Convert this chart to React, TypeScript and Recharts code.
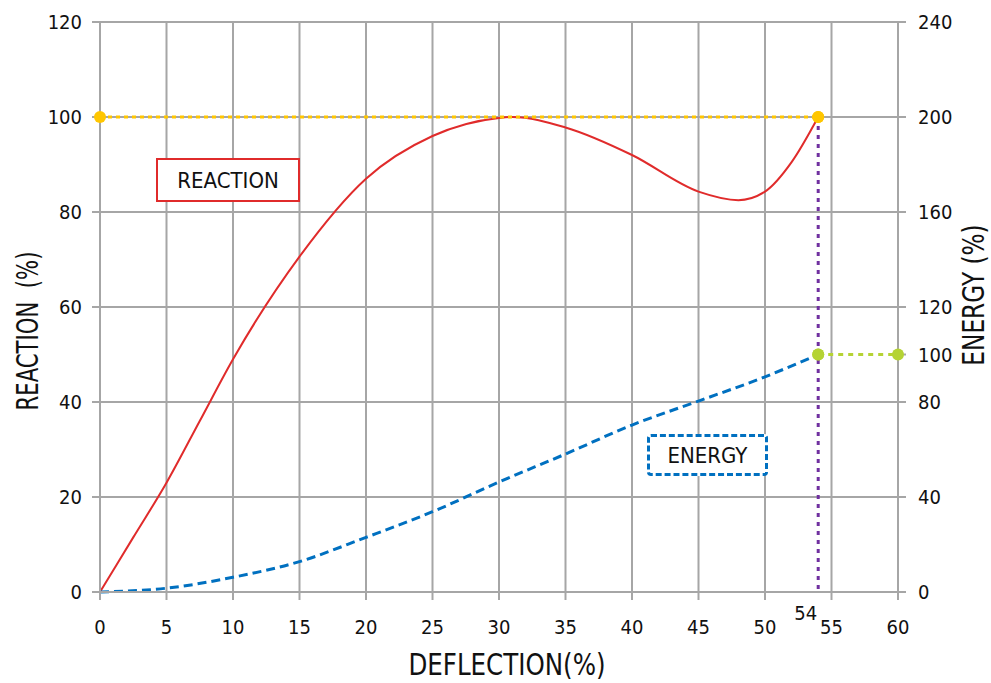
import React from "react"
import { LineChart, Line, XAxis, YAxis, CartesianGrid } from "recharts"

// deflection (%) where the reaction curve was read
const reactionX = [0, 2.5, 5, 7.5, 10, 15, 20, 25, 30, 31, 35, 40, 45, 48, 50, 52, 54]
const reactionY = [0, 11.5, 23, 36, 49, 70.6, 87, 96, 99.8, 100, 97.8, 92, 84.3, 82.5, 84.3, 90.5, 100]

// deflection (%) where the energy curve was read (right axis)
const energyX = [0, 5, 10, 15, 20, 25, 30, 35, 40, 45, 50, 54]
const energyY = [0, 1.6, 6.2, 12.8, 23, 33.8, 46.3, 58.1, 70.3, 80.4, 90.6, 100]

const xTicks = [0, 5, 10, 15, 20, 25, 30, 35, 40, 45, 50, 55, 60]
const leftTicks = [0, 20, 40, 60, 80, 100, 120]
const rightTicks = [0, 40, 80, 100, 120, 160, 200, 240]

const ratedX = 54
const ratedReaction = 100
const ratedEnergy = 100

const reactionData = reactionX.map((x, i) => ({ x, reaction: reactionY[i] }))
const energyData = energyX.map((x, i) => ({ x, energy: energyY[i] }))
const reactionCap = [{ x: 0, cap: ratedReaction }, { x: ratedX, cap: ratedReaction }]
const dropLine = [{ x: ratedX, drop: ratedReaction }, { x: ratedX, drop: 0 }]
const energyCap = [{ x: ratedX, ecap: ratedEnergy }, { x: 60, ecap: ratedEnergy }]

const FONT = "'Liberation Sans Narrow', 'DejaVu Sans Condensed', Roboto, sans-serif"
const GRID = "#a6a6a6"

const XTick = (props: any) => {
  const { x, y, payload } = props
  return (
    <g>
      <line x1={x} x2={x} y1={y} y2={y + 8} stroke={GRID} strokeWidth={2} />
      <text x={x} y={y + 42} textAnchor="middle" fontSize={20} fill="#111" fontFamily={FONT}>
        {payload.value}
      </text>
    </g>
  )
}

// "54" label under the foot of the drop line
const DropLabel = (props: any) => {
  const { x, y, index } = props
  if (index !== 1) return null
  return (
    <text x={x - 1} y={y + 28} textAnchor="end" fontSize={20} fill="#111" fontFamily={FONT}>
      {ratedX}
    </text>
  )
}

export default function App() {
  return (
    <div style={{ position: "absolute", left: 0, top: 0, width: 991, height: 683, background: "#fff", fontFamily: FONT, overflow: "hidden" }}>
      <LineChart width={991} height={683} margin={{ top: 22, right: 33, left: 40, bottom: 31 }}>
        <CartesianGrid yAxisId="left" stroke={GRID} strokeWidth={2} />
        <XAxis
          type="number"
          dataKey="x"
          domain={[0, 60]}
          ticks={xTicks}
          height={60}
          tickLine={false}
          tickSize={0}
          tickMargin={0}
          axisLine={{ stroke: GRID, strokeWidth: 2 }}
          tick={<XTick />}
          interval={0}
        />
        <YAxis
          yAxisId="left"
          domain={[0, 120]}
          ticks={leftTicks}
          width={60}
          tickSize={8}
          tickMargin={10}
          tickLine={{ stroke: GRID, strokeWidth: 2 }}
          axisLine={{ stroke: GRID, strokeWidth: 2 }}
          tick={{ fontSize: 20, fill: "#111", fontFamily: FONT }}
          interval={0}
        />
        <YAxis
          yAxisId="right"
          orientation="right"
          domain={[0, 240]}
          ticks={rightTicks}
          width={60}
          tickSize={8}
          tickMargin={12}
          tickLine={{ stroke: GRID, strokeWidth: 2 }}
          axisLine={{ stroke: GRID, strokeWidth: 2 }}
          tick={{ fontSize: 20, fill: "#111", fontFamily: FONT }}
          interval={0}
        />
        <Line
          yAxisId="left"
          data={reactionData}
          dataKey="reaction"
          type="monotone"
          stroke="#e02b2b"
          strokeWidth={2}
          dot={false}
          isAnimationActive={false}
        />
        <Line
          yAxisId="right"
          data={energyData}
          dataKey="energy"
          type="monotone"
          stroke="#0070c0"
          strokeWidth={3}
          strokeDasharray="9 5"
          dot={false}
          isAnimationActive={false}
        />
        <Line
          yAxisId="left"
          data={reactionCap}
          dataKey="cap"
          type="linear"
          stroke="#ffc600"
          strokeWidth={3}
          strokeDasharray="4 4"
          dot={{ r: 6, fill: "#ffc600", stroke: "none" }}
          isAnimationActive={false}
        />
        <Line
          yAxisId="left"
          data={dropLine}
          dataKey="drop"
          type="linear"
          stroke="#7030a0"
          strokeWidth={3}
          strokeDasharray="4 5"
          dot={false}
          label={<DropLabel />}
          isAnimationActive={false}
        />
        <Line
          yAxisId="right"
          data={energyCap}
          dataKey="ecap"
          type="linear"
          stroke="#b5d334"
          strokeWidth={3}
          strokeDasharray="5 5"
          dot={{ r: 6, fill: "#b5d334", stroke: "none" }}
          isAnimationActive={false}
        />
        {/* rated point dots drawn on top of the drop line */}
        <Line
          yAxisId="left"
          data={[reactionCap[1]]}
          dataKey="cap"
          stroke="none"
          dot={{ r: 6, fill: "#ffc600", stroke: "none" }}
          isAnimationActive={false}
        />
        <Line
          yAxisId="right"
          data={[energyCap[0]]}
          dataKey="ecap"
          stroke="none"
          dot={{ r: 6, fill: "#b5d334", stroke: "none" }}
          isAnimationActive={false}
        />
      </LineChart>

      <div
        style={{
          position: "absolute", left: 156, top: 158, width: 144, height: 44, boxSizing: "border-box",
          border: "2px solid #e02b2b", display: "flex", alignItems: "center", justifyContent: "center",
          fontSize: 22, color: "#111", background: "#fff",
        }}
      >
        REACTION
      </div>
      <div
        style={{
          position: "absolute", left: 647, top: 434, width: 121, height: 42, boxSizing: "border-box",
          border: "3px dashed #0070c0", borderRadius: 4, display: "flex", alignItems: "center",
          justifyContent: "center", fontSize: 22, color: "#111", background: "#fff",
        }}
      >
        ENERGY
      </div>

      <div
        style={{
          position: "absolute", left: 27 - 150, top: 331 - 20, width: 300, height: 40, lineHeight: "40px",
          textAlign: "center", fontSize: 31, color: "#111", transform: "rotate(-90deg) scaleX(0.76)", whiteSpace: "pre",
        }}
      >
        {"REACTION  (%)"}
      </div>
      <div
        style={{
          position: "absolute", left: 974 - 150, top: 295 - 20, width: 300, height: 40, lineHeight: "40px",
          textAlign: "center", fontSize: 30, color: "#111", transform: "rotate(-90deg) scaleX(0.86)", whiteSpace: "pre",
        }}
      >
        ENERGY (%)
      </div>
      <div
        style={{
          position: "absolute", left: 507 - 150, top: 644, width: 300, height: 40, lineHeight: "40px",
          textAlign: "center", fontSize: 31, color: "#111", transform: "scaleX(0.88)",
        }}
      >
        DEFLECTION(%)
      </div>
    </div>
  )
}
